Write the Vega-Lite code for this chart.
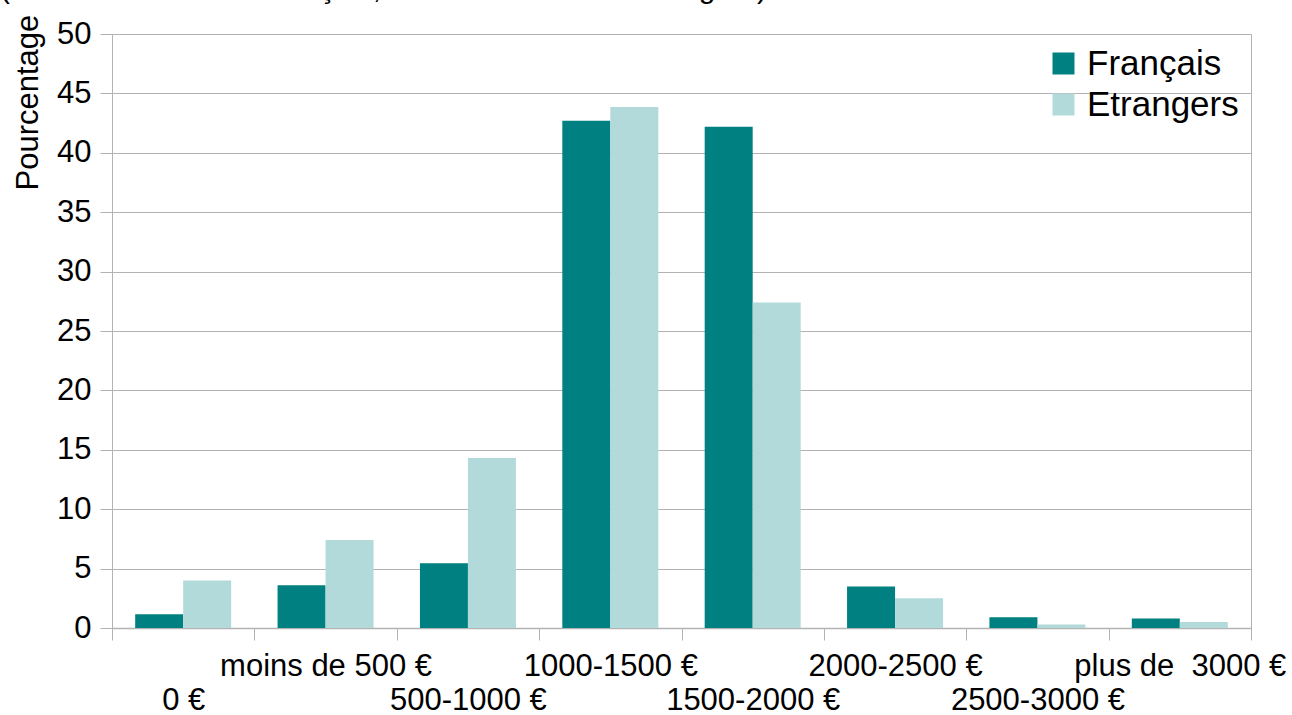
{
  "$schema": "https://vega.github.io/schema/vega-lite/v6.json",
  "width": 1139,
  "height": 594,
  "autosize": {"type": "none"},
  "padding": {"left": 112, "top": 34, "right": 41, "bottom": 87},
  "background": "white",
  "title": {
    "text": "(n = 150 doctorants français, n = 56 doctorants étrangers)",
    "anchor": "start",
    "frame": "bounds",
    "font": "Liberation Sans",
    "fontSize": 30,
    "fontWeight": "normal",
    "color": "black",
    "baseline": "alphabetic",
    "offset": -14,
    "dy": 0,
    "dx": -12
  },
  "config": {
    "view": {"stroke": "#b3b3b3", "strokeWidth": 1},
    "font": "Liberation Sans"
  },
  "data": {
    "values": [
      {"cat": "0 €", "groupe": "Français", "pct": 1.15},
      {"cat": "0 €", "groupe": "Etrangers", "pct": 4.0},
      {"cat": "moins de 500 €", "groupe": "Français", "pct": 3.6},
      {"cat": "moins de 500 €", "groupe": "Etrangers", "pct": 7.4},
      {"cat": "500-1000 €", "groupe": "Français", "pct": 5.45},
      {"cat": "500-1000 €", "groupe": "Etrangers", "pct": 14.3},
      {"cat": "1000-1500 €", "groupe": "Français", "pct": 42.7},
      {"cat": "1000-1500 €", "groupe": "Etrangers", "pct": 43.85},
      {"cat": "1500-2000 €", "groupe": "Français", "pct": 42.2},
      {"cat": "1500-2000 €", "groupe": "Etrangers", "pct": 27.4},
      {"cat": "2000-2500 €", "groupe": "Français", "pct": 3.5},
      {"cat": "2000-2500 €", "groupe": "Etrangers", "pct": 2.5},
      {"cat": "2500-3000 €", "groupe": "Français", "pct": 0.9},
      {"cat": "2500-3000 €", "groupe": "Etrangers", "pct": 0.3},
      {"cat": "plus de\u00a0 3000 €", "groupe": "Français", "pct": 0.8},
      {"cat": "plus de\u00a0 3000 €", "groupe": "Etrangers", "pct": 0.5}
    ]
  },
  "mark": {"type": "bar"},
  "encoding": {
    "x": {
      "field": "cat",
      "type": "nominal",
      "sort": null,
      "scale": {"paddingInner": 0, "paddingOuter": 0},
      "axis": {
        "title": null,
        "labelAngle": 0,
        "tickBand": "extent",
        "tickSize": 12,
        "domainColor": "#b3b3b3",
        "domainWidth": 1.5,
        "tickColor": "#b3b3b3",
        "labelFont": "Liberation Sans",
        "labelFontSize": 31,
        "labelColor": "black",
        "labelBaseline": "top",
        "labelOverlap": false,
        "labelLimit": 0,
        "labelPadding": {
          "condition": {
            "test": "indexof(['0 €','500-1000 €','1500-2000 €','2500-3000 €'], datum.value) >= 0",
            "value": 45
          },
          "value": 11
        },
        "grid": false
      }
    },
    "xOffset": {
      "field": "groupe",
      "type": "nominal",
      "sort": ["Français", "Etrangers"],
      "scale": {"paddingOuter": 0.483, "paddingInner": 0}
    },
    "y": {
      "field": "pct",
      "type": "quantitative",
      "scale": {"domain": [0, 50], "nice": false},
      "axis": {
        "values": [0, 5, 10, 15, 20, 25, 30, 35, 40, 45, 50],
        "title": "Pourcentage",
        "titleFont": "Liberation Sans",
        "titleFontSize": 31,
        "titleFontWeight": "normal",
        "titleColor": "black",
        "titleAngle": 270,
        "titleAlign": "left",
        "titleBaseline": "alphabetic",
        "titleX": -75,
        "titleY": 156,
        "titleLimit": 0,
        "tickSize": 12,
        "tickColor": "#b3b3b3",
        "domainColor": "#b3b3b3",
        "gridColor": "#b3b3b3",
        "labelFont": "Liberation Sans",
        "labelFontSize": 31,
        "labelColor": "black",
        "labelPadding": 9
      }
    },
    "color": {
      "field": "groupe",
      "type": "nominal",
      "scale": {"domain": ["Français", "Etrangers"], "range": ["#008080", "#b3dada"]},
      "legend": {
        "title": null,
        "orient": "top-right",
        "offset": 12,
        "padding": 0,
        "symbolType": "square",
        "symbolSize": 484,
        "symbolStrokeWidth": 0,
        "labelFont": "Liberation Sans",
        "labelFontSize": 35,
        "labelColor": "black",
        "labelOffset": 6,
        "labelLimit": 0,
        "rowPadding": 5
      }
    }
  }
}
